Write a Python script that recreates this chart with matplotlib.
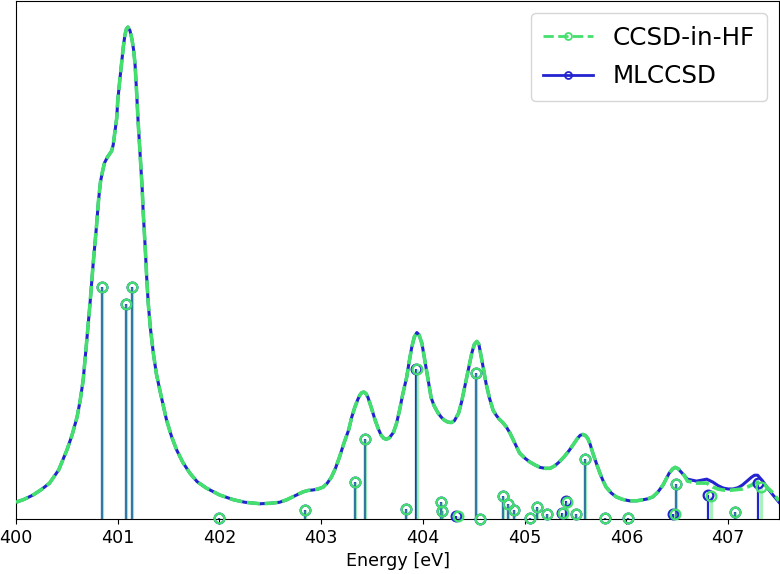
import numpy as np
import matplotlib.pyplot as plt

# espectro ensanchado (parte comun a ambos metodos)
energia_comun = [400.00, 400.08, 400.17, 400.25, 400.33, 400.42, 400.50, 400.55, 400.60, 400.63,
                 400.66, 400.69, 400.73, 400.76, 400.79, 400.81, 400.83, 400.85, 400.87, 400.90,
                 400.94, 400.955, 400.97, 400.99, 401.00, 401.02, 401.04, 401.055, 401.07, 401.085,
                 401.10, 401.12, 401.14, 401.155, 401.17, 401.185, 401.20, 401.22, 401.24, 401.25,
                 401.27, 401.285, 401.30, 401.32, 401.35, 401.38, 401.42, 401.45, 401.48, 401.53,
                 401.58, 401.64, 401.71, 401.78, 401.87, 402.00, 402.14, 402.25, 402.40, 402.50,
                 402.59, 402.66, 402.72, 402.77, 402.82, 402.87, 402.92, 402.97, 403.02, 403.06,
                 403.10, 403.14, 403.18, 403.22, 403.27, 403.30, 403.33, 403.36, 403.38, 403.40,
                 403.42, 403.44, 403.46, 403.49, 403.53, 403.56, 403.59, 403.615, 403.64, 403.67,
                 403.71, 403.74, 403.77, 403.80, 403.84, 403.865, 403.89, 403.915, 403.94, 403.96,
                 403.99, 404.01, 404.04, 404.06, 404.08, 404.11, 404.15, 404.18, 404.21, 404.245,
                 404.28, 404.31, 404.35, 404.38, 404.41, 404.445, 404.48, 404.505, 404.53, 404.55,
                 404.57, 404.595, 404.62, 404.655, 404.69, 404.72, 404.75, 404.785, 404.82, 404.855,
                 404.89, 404.92, 404.95, 405.00, 405.05, 405.10, 405.15, 405.20, 405.25, 405.295,
                 405.34, 405.39, 405.44, 405.48, 405.52, 405.545, 405.57, 405.595, 405.62, 405.645,
                 405.67, 405.705, 405.74, 405.77, 405.80, 405.85, 405.90, 405.96, 406.03, 406.10,
                 406.16, 406.21, 406.26, 406.31, 406.36, 406.39, 406.42, 406.455, 406.48, 406.51,
                 406.54, 406.57]
intensidad_comun = [0.034, 0.040, 0.049, 0.060, 0.073, 0.100, 0.140, 0.170, 0.207, 0.240,
                    0.282, 0.350, 0.444, 0.523, 0.592, 0.645, 0.685, 0.706, 0.724, 0.736,
                    0.748, 0.760, 0.783, 0.815, 0.850, 0.892, 0.931, 0.960, 0.983, 0.996,
                    1.000, 0.993, 0.975, 0.955, 0.925, 0.870, 0.809, 0.740, 0.673, 0.625,
                    0.552, 0.490, 0.438, 0.390, 0.337, 0.295, 0.256, 0.228, 0.201, 0.167,
                    0.140, 0.115, 0.093, 0.076, 0.063, 0.049, 0.039, 0.034, 0.031, 0.032,
                    0.034, 0.039, 0.045, 0.050, 0.055, 0.058, 0.059, 0.061, 0.065, 0.073,
                    0.085, 0.103, 0.126, 0.152, 0.181, 0.207, 0.227, 0.243, 0.252, 0.257,
                    0.258, 0.255, 0.247, 0.228, 0.201, 0.184, 0.170, 0.164, 0.162, 0.165,
                    0.176, 0.194, 0.221, 0.252, 0.288, 0.320, 0.349, 0.370, 0.379, 0.375,
                    0.357, 0.333, 0.296, 0.272, 0.247, 0.230, 0.215, 0.207, 0.201, 0.197,
                    0.196, 0.200, 0.215, 0.238, 0.268, 0.302, 0.337, 0.355, 0.361, 0.355,
                    0.333, 0.305, 0.276, 0.245, 0.221, 0.211, 0.203, 0.196, 0.187, 0.175,
                    0.160, 0.147, 0.134, 0.124, 0.116, 0.110, 0.105, 0.103, 0.103, 0.108,
                    0.116, 0.127, 0.140, 0.152, 0.164, 0.170, 0.172, 0.170, 0.164, 0.151,
                    0.134, 0.113, 0.093, 0.078, 0.065, 0.053, 0.045, 0.040, 0.037, 0.037,
                    0.039, 0.041, 0.045, 0.055, 0.069, 0.081, 0.093, 0.102, 0.105, 0.102,
                    0.095, 0.088]

# cola donde los dos espectros se separan
energia_cola = [406.60, 406.645, 406.69, 406.74, 406.79, 406.85, 406.90, 406.95, 407.00, 407.05,
                407.10, 407.14, 407.19, 407.23, 407.26, 407.29, 407.34, 407.39, 407.44, 407.50]
intensidad_cola_HF = [0.077, 0.075, 0.073, 0.073, 0.073, 0.065, 0.061, 0.059, 0.058, 0.059,
                      0.060, 0.061, 0.065, 0.069, 0.073, 0.075, 0.073, 0.063, 0.053, 0.037]
intensidad_cola_ML = [0.081, 0.079, 0.077, 0.079, 0.081, 0.075, 0.068, 0.063, 0.061, 0.061,
                      0.064, 0.069, 0.078, 0.085, 0.089, 0.089, 0.077, 0.062, 0.049, 0.034]

# transiciones (barras)
energia_barras_HF = [400.848, 401.080, 401.143, 401.997, 402.845, 403.330, 403.435, 403.838, 403.940, 404.180,
                     404.185, 404.345, 404.525, 404.560, 404.790, 404.840, 404.900, 405.050, 405.125, 405.220,
                     405.375, 405.415, 405.500, 405.590, 405.786, 406.015, 406.475, 406.490, 406.830, 407.070,
                     407.320]
intensidad_barras_HF = [0.471, 0.438, 0.471, 0.002, 0.018, 0.075, 0.162, 0.020, 0.304, 0.034,
                        0.016, 0.006, 0.296, 0.001, 0.047, 0.030, 0.018, 0.002, 0.024, 0.010,
                        0.012, 0.034, 0.010, 0.122, 0.002, 0.003, 0.010, 0.071, 0.047, 0.015,
                        0.065]
energia_barras_ML = [400.848, 401.080, 401.143, 401.997, 402.845, 403.330, 403.435, 403.838, 403.935, 404.180,
                     404.185, 404.328, 404.525, 404.560, 404.790, 404.840, 404.900, 405.050, 405.125, 405.220,
                     405.370, 405.410, 405.500, 405.590, 405.786, 406.015, 406.462, 406.490, 406.800, 407.070,
                     407.290]
intensidad_barras_ML = [0.471, 0.438, 0.471, 0.002, 0.018, 0.075, 0.162, 0.020, 0.304, 0.034,
                        0.016, 0.006, 0.296, 0.001, 0.047, 0.030, 0.018, 0.002, 0.024, 0.010,
                        0.012, 0.036, 0.010, 0.122, 0.002, 0.003, 0.010, 0.071, 0.049, 0.015,
                        0.073]

verde = '#44e06e'
azul = '#2323cf'

energia = energia_comun + energia_cola
espectro_HF = intensidad_comun + intensidad_cola_HF
espectro_ML = intensidad_comun + intensidad_cola_ML

fig = plt.figure(figsize=(7.8, 5.74), dpi=100)
ax = fig.add_axes([16/780, 55/574, 763/780, 518/574])

ax.plot(energia, espectro_ML, color=azul, lw=2.2, zorder=2)
ax.plot(energia, espectro_HF, color=verde, lw=2.6, ls=(0, (3.6, 1.3)), zorder=3)

ax.vlines(energia_barras_ML, 0, intensidad_barras_ML, color=azul, lw=1.6, zorder=2)
ax.vlines(energia_barras_HF, 0, intensidad_barras_HF, color=verde, lw=2.4, alpha=0.45, zorder=3)
ax.plot(energia_barras_ML, intensidad_barras_ML, 'o', mfc='none', mec=azul, ms=7, mew=1.6,
        clip_on=False, zorder=4)
ax.plot(energia_barras_HF, intensidad_barras_HF, 'o', mfc='none', mec=verde, ms=7, mew=1.6,
        clip_on=False, zorder=5)

# entradas de la leyenda
ax.plot([], [], ls='--', marker='o', mfc='none', color=verde, lw=2, ms=5, mew=1.3, label='CCSD-in-HF')
ax.plot([], [], ls='-', marker='o', mfc='none', color=azul, lw=2, ms=5, mew=1.3, label='MLCCSD')
ax.legend(loc='upper right', fontsize=17.7, labelspacing=0.6, borderpad=0.5)

ax.set_xlim(400, 407.5)
ax.set_ylim(0, 1.053)
ax.set_yticks([])
ax.set_xticks([400, 401, 402, 403, 404, 405, 406, 407])
ax.tick_params(axis='x', labelsize=12.6)
ax.set_xlabel('Energy [eV]', fontsize=12.6)

plt.savefig('out.png', dpi=100)
